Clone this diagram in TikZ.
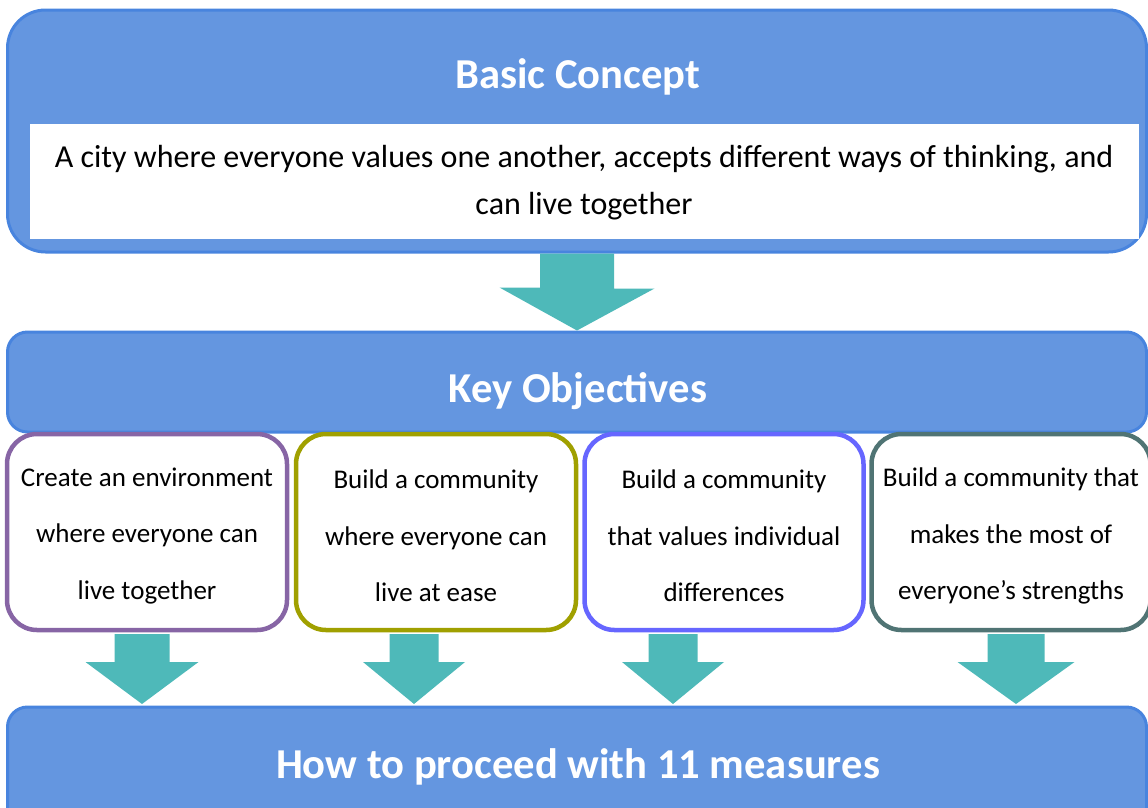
\documentclass[tikz,border=0pt]{standalone}
\usepackage{fontspec}
\setmainfont{Carlito}
\definecolor{boxfill}{RGB}{100,150,224}
\definecolor{boxline}{RGB}{72,132,222}
\definecolor{arrowc}{RGB}{78,185,185}
\definecolor{cpurple}{RGB}{135,101,165}
\definecolor{colive}{RGB}{160,160,0}
\definecolor{cviolet}{RGB}{102,102,255}
\definecolor{cslate}{RGB}{80,116,116}
\begin{document}
\begin{tikzpicture}[x=1pt,y=-1pt,
  bluebox/.style={draw=boxline,line width=3pt,fill=boxfill,rectangle,inner sep=0pt},
  objbox/.style={draw=#1,line width=4.5pt,fill=white,rounded corners=30pt,rectangle,
    minimum height=196pt,inner sep=0pt},
  objtext/.style={align=center,inner sep=0pt,font=\fontsize{27}{56.5}\selectfont},
  titletext/.style={text=white,font=\bfseries\fontsize{42.6}{50}\selectfont,inner sep=0pt},
  bigarrow/.style={fill=arrowc}]
\useasboundingbox (0,0) rectangle (1148,807);
\clip (0,0) rectangle (1148,807);
% top box
\node[bluebox,rounded corners=38pt,minimum width=1139pt,minimum height=242pt] (concept) at (577,131) {};
\node[fill=white,minimum width=1109pt,minimum height=115pt,inner sep=0pt] (conceptbody) at (584.5,181.5) {};
\node[titletext] (concepttitle) at (578,77) {Basic Concept};
\node[align=center,font=\fontsize{32}{47}\selectfont,inner sep=0pt] (concepttext) at (584,183) {A city where everyone values one another, accepts different ways of thinking, and\\can live together};
% key objectives
\node[bluebox,rounded corners=20pt,minimum width=1139pt,minimum height=100pt] (key) at (577,382) {};
\node[titletext] (keytitle) at (578,391) {Key Objectives};
% bottom box
\node[bluebox,rounded corners=20pt,minimum width=1139pt,minimum height=140pt] (how) at (577,777) {};
\node[titletext] (howtitle) at (578,767) {How to proceed with 11 measures};
% arrow 1
\fill[bigarrow] ([xshift=-37pt]concept.south) -- ([xshift=37pt]concept.south) -- ++(0,35) -- ++(40.5,0) -- (key.north) -- ++(-77.5,-43) -- ++(40.5,0) -- cycle;
% objective boxes
\node[objbox=cpurple,minimum width=280pt] (o1) at (147,532) {};
\node[objbox=colive,minimum width=280pt] (o2) at (436,532) {};
\node[objbox=cviolet,minimum width=279pt] (o3) at (724,532) {};
\node[objbox=cslate,minimum width=279pt] (o4) at (1011,532) {};
\node[objtext] (t1) at ([yshift=-4pt]o1.center) {Create an environment\\where everyone can\\live together};
\node[objtext] (t2) at ([yshift=-4pt]o2.center) {Build a community\\where everyone can\\live at ease};
\node[objtext] (t3) at ([yshift=-4pt]o3.center) {Build a community\\that values individual\\differences};
\node[objtext] (t4) at ([yshift=-4pt]o4.center) {Build a community that\\makes the most of\\everyone’s strengths};
% small arrows
\foreach \n/\x/\s/\h in {1/142/27.5/56.5, 2/414/24.5/51, 3/673/24.5/51, 4/1016/28.5/58.5}{
  \coordinate (a\n top) at (\x,634);
  \coordinate (a\n tip) at (\x,704);
  \fill[bigarrow] ([xshift=-\s pt]a\n top) -- ([xshift=\s pt]a\n top) -- ++(0,28) -- (\x+\h,662) -- (a\n tip) -- (\x-\h,662) -- (\x-\s,662) -- cycle;
}
\end{tikzpicture}
\end{document}
